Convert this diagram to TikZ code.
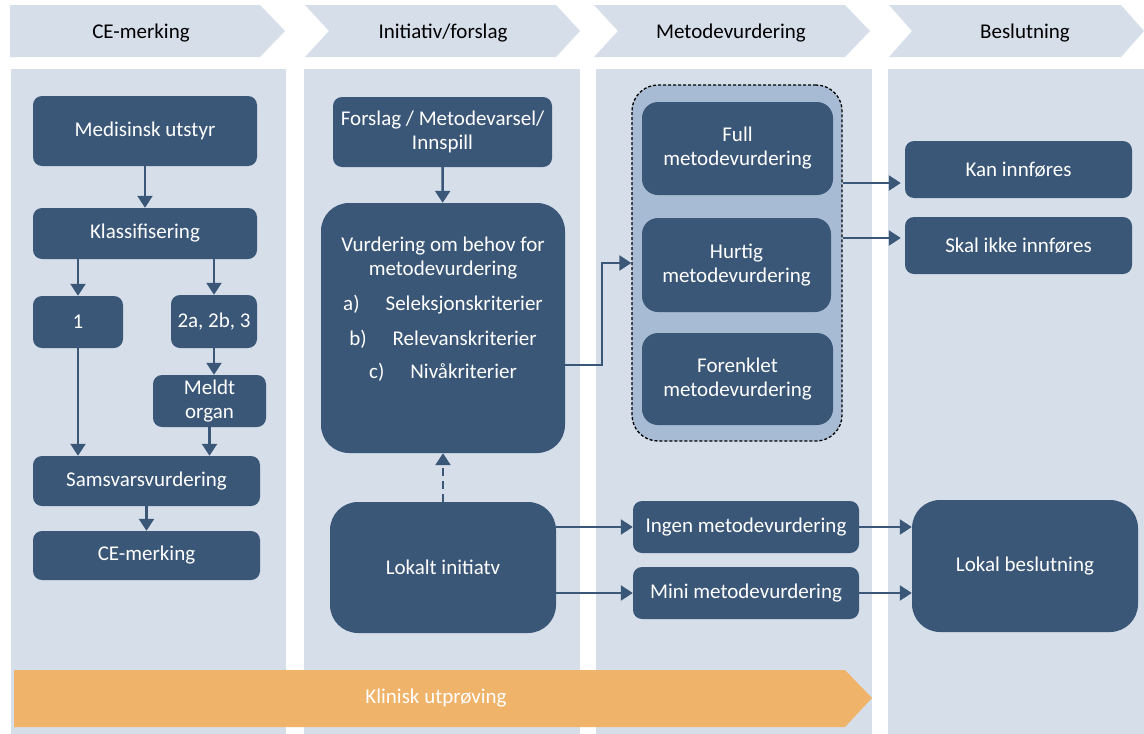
\documentclass[tikz,border=0pt]{standalone}
\usepackage{fontspec}
\setmainfont{Carlito}
\usetikzlibrary{arrows.meta, positioning}

\definecolor{boxblue}{HTML}{3B5778}
\definecolor{lanebg}{HTML}{D5DEE9}
\definecolor{groupbg}{HTML}{A7BCD4}
\definecolor{trialor}{HTML}{F0B36A}

\tikzset{
	box/.style={rectangle, rounded corners=9pt, fill=boxblue, text=white, align=center, inner sep=0pt},
	bigbox/.style={box, rounded corners=28pt},
	flow/.style={draw=boxblue, line width=2.4pt, -{Triangle[length=12pt,width=15pt]}},
	lane/.style={fill=lanebg},
	txt/.style={font=\fontsize{21}{24}\selectfont}
}

\begin{document}
\begin{tikzpicture}[x=1pt, y=-1pt, auto, every node/.style={txt}]
	%\draw[help lines] (0,0) grid[step=50pt] (1144,734);
	\useasboundingbox (0,0) rectangle (1144,734);

	% lanes and headers
	\fill[lane] (11,69) rectangle (286,734);
	\fill[lane] (304,69) rectangle (580,734);
	\fill[lane] (596,69) rectangle (872,734);
	\fill[lane] (888,69) rectangle (1144,734);

	\fill[lane] (10,5) -- (260,5) -- (285,31) -- (260,57) -- (10,57) -- cycle;
	\fill[lane] (305,5) -- (556,5) -- (580,31) -- (556,57) -- (305,57) -- (329,31) -- cycle;
	\fill[lane] (594,5) -- (845,5) -- (870,31) -- (845,57) -- (594,57) -- (618,31) -- cycle;
	\fill[lane] (889,5) -- (1121,5) -- (1144,31) -- (1121,57) -- (889,57) -- (912,31) -- cycle;
	\node (hce) at (141,33) {CE-merking};
	\node (hinit) at (443,33) {Initiativ/forslag};
	\node (hmetode) at (731,33) {Metodevurdering};
	\node (hbeslut) at (1025,33) {Beslutning};

	% CE-merking
	\node (medutstyr) [box, minimum width=224pt, minimum height=70pt] at (145,131) {Medisinsk utstyr};
	\node (klass) [box, minimum width=224pt, minimum height=51pt] at (145,233.5) {Klassifisering};
	\node (kl1) [box, minimum width=90pt, minimum height=52pt] at (78,322) {1};
	\node (kl2) [box, minimum width=86pt, minimum height=53pt] at (214,321.5) {2a, 2b, 3};
	\node (meldt) [box, minimum width=113pt, minimum height=52pt] at (209.5,401) {Meldt\\organ};
	\node (samsvar) [box, minimum width=227pt, minimum height=50pt] at (146.5,481) {Samsvarsvurdering};
	\node (cemerk) [box, minimum width=227pt, minimum height=49pt] at (146.5,555.5) {CE-merking};

	\draw [flow] (medutstyr) -- (klass);
	\draw [flow] (klass.south -| kl1) -- (kl1);
	\draw [flow] (klass.south -| kl2) -- (kl2);
	\draw [flow] (kl2.south) -- (meldt.north -| kl2.south);
	\draw [flow] (kl1) -- (samsvar.north -| kl1);
	\draw [flow] (meldt) -- (samsvar.north -| meldt);
	\draw [flow] (samsvar) -- (cemerk);

	% Initiativ/forslag
	\node (forslag) [box, minimum width=219pt, minimum height=70pt] at (442.5,132) {Forslag / Metodevarsel/\\Innspill};
	\node (vurd) [bigbox, minimum width=244pt, minimum height=250pt] at (443,328)
		{Vurdering om behov for\\metodevurdering\\[11pt]a)\hspace{26pt}Seleksjonskriterier\\[11pt]b)\hspace{26pt}Relevanskriterier\\[9pt]c)\hspace{26pt}Nivåkriterier\\[17pt]\mbox{}};
	\node (lokalt) [bigbox, minimum width=226pt, minimum height=131pt] at (443,567.5) {Lokalt initiatv};

	\draw [flow] (forslag) -- (vurd);
	\draw [flow, dash pattern=on 8pt off 5pt] (lokalt) -- (vurd);

	% Metodevurdering
	\node (metgrp) [box, fill=groupbg, draw=black, line width=1.3pt, dash pattern=on 3pt off 2pt, rounded corners=26pt, minimum width=210pt, minimum height=356pt] at (737,263) {};
	\node (full) [box, rounded corners=16pt, minimum width=191pt, minimum height=93pt] at (737.5,148.5) {Full\\metodevurdering};
	\node (hurtig) [box, rounded corners=16pt, minimum width=189pt, minimum height=94pt] at (736.5,265) {Hurtig\\metodevurdering};
	\node (forenk) [box, rounded corners=16pt, minimum width=191pt, minimum height=92pt] at (737.5,379) {Forenklet\\metodevurdering};
	\node (ingen) [box, minimum width=226pt, minimum height=52pt] at (746,527) {Ingen metodevurdering};
	\node (mini) [box, minimum width=226pt, minimum height=52pt] at (746,593) {Mini metodevurdering};

	\draw [flow] ([yshift=-37pt]vurd.east) -- ++(37,0) |- (metgrp.west);
	\draw [flow] (lokalt.east |- ingen.west) -- (ingen.west);
	\draw [flow] (lokalt.east |- mini.west) -- (mini.west);

	% Beslutning
	\node (kan) [box, minimum width=227pt, minimum height=57pt] at (1018.5,169.5) {Kan innføres};
	\node (skal) [box, minimum width=227pt, minimum height=57pt] at (1018.5,245.5) {Skal ikke innføres};
	\node (lokbes) [bigbox, minimum width=226pt, minimum height=132pt] at (1025,566) {Lokal beslutning};

	\coordinate (kanin) at ([yshift=-13.5pt]kan.west);
	\coordinate (skalin) at ([yshift=7.5pt]skal.west);
	\draw [flow, shorten >=4pt] (metgrp.east |- kanin) -- (kanin);
	\draw [flow, shorten >=4pt] (metgrp.east |- skalin) -- (skalin);
	\draw [flow] (ingen.east) -- (lokbes.west |- ingen.east);
	\draw [flow] (mini.east) -- (lokbes.west |- mini.east);

	% klinisk utproving
	\fill[trialor] (14,670) -- (845,670) -- (872,698) -- (845,727) -- (14,727) -- cycle;
	\node (klinisk) [text=white] at (436,698) {Klinisk utprøving};
\end{tikzpicture}
\end{document}
